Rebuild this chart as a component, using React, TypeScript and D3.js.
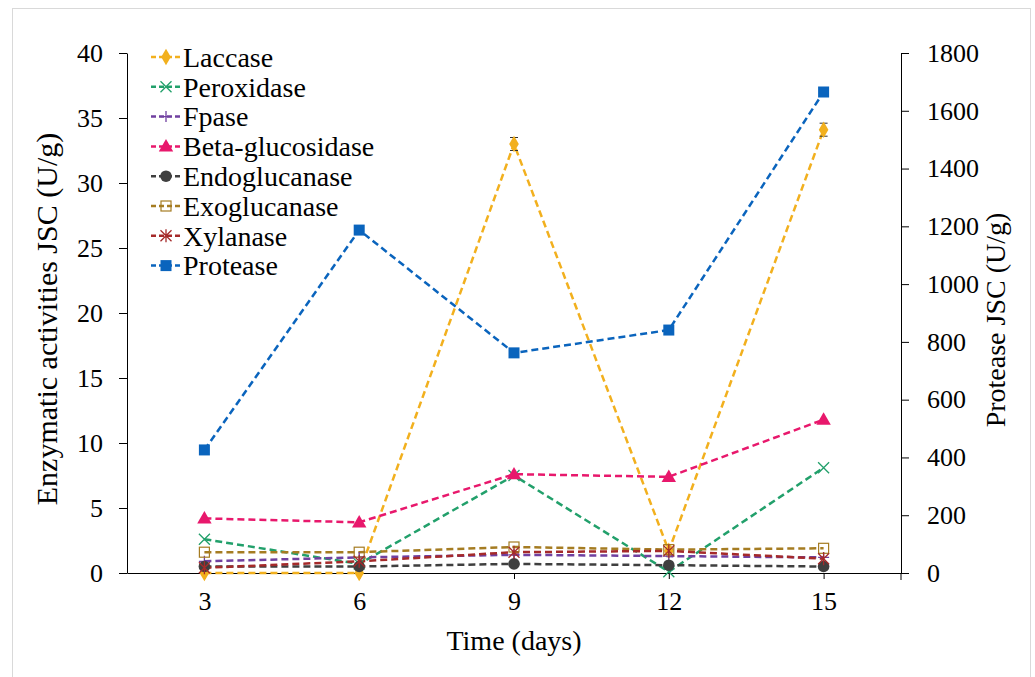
import React, { useRef, useEffect } from 'react'
import * as d3 from 'd3'

const days = ['3', '6', '9', '12', '15']
const laccase = [0.0, 0.0, 33.0, 1.7, 34.1]
const laccaseErr = [0, 0, 0.5, 0, 0.5]
const peroxidase = [2.6, 0.7, 7.5, 0.1, 8.1]
const fpase = [0.9, 1.2, 1.4, 1.3, 1.2]
const betaGlucosidase = [4.2, 3.9, 7.6, 7.4, 11.8]
const endoglucanase = [0.5, 0.5, 0.7, 0.6, 0.5]
const exoglucanase = [1.6, 1.6, 2.0, 1.8, 1.9]
const xylanase = [0.4, 0.9, 1.6, 1.7, 1.1]
const protease = [426, 1187, 762, 841, 1665]
const leftTicks = [0, 5, 10, 15, 20, 25, 30, 35, 40]
const rightTicks = [0, 200, 400, 600, 800, 1000, 1200, 1400, 1600, 1800]

type Series = { name: string; values: number[]; color: string; marker: string; axis: 'L' | 'R'; err?: number[] }

const series: Series[] = [
  { name: 'Laccase', values: laccase, color: '#f2b01e', marker: 'diamond', axis: 'L', err: laccaseErr },
  { name: 'Peroxidase', values: peroxidase, color: '#22a06b', marker: 'x', axis: 'L' },
  { name: 'Fpase', values: fpase, color: '#7040a0', marker: 'plus', axis: 'L' },
  { name: 'Beta-glucosidase', values: betaGlucosidase, color: '#e8186c', marker: 'triangle', axis: 'L' },
  { name: 'Endoglucanase', values: endoglucanase, color: '#3f3f3f', marker: 'circle', axis: 'L' },
  { name: 'Exoglucanase', values: exoglucanase, color: '#a57c22', marker: 'opensquare', axis: 'L' },
  { name: 'Xylanase', values: xylanase, color: '#a52a2a', marker: 'star', axis: 'L' },
  { name: 'Protease', values: protease, color: '#0a64bd', marker: 'square', axis: 'R' },
]

const font = "'Liberation Serif', 'DejaVu Serif', serif"

function drawMarker(g: any, kind: string, cx: number, cy: number, color: string) {
  const s = 5.5
  if (kind === 'diamond') {
    g.append('path').attr('d', d3.symbol(d3.symbolDiamond, 80)()).attr('transform', `translate(${cx},${cy})`).attr('fill', color)
  } else if (kind === 'triangle') {
    g.append('path').attr('d', d3.symbol(d3.symbolTriangle, 90)()).attr('transform', `translate(${cx},${cy + 1})`).attr('fill', color)
  } else if (kind === 'circle') {
    g.append('circle').attr('cx', cx).attr('cy', cy).attr('r', 5.8).attr('fill', color)
  } else if (kind === 'square') {
    g.append('rect').attr('x', cx - s).attr('y', cy - s).attr('width', 2 * s).attr('height', 2 * s).attr('fill', color)
  } else if (kind === 'opensquare') {
    g.append('rect').attr('x', cx - s + 0.5).attr('y', cy - s + 0.5).attr('width', 2 * s - 1).attr('height', 2 * s - 1)
      .attr('fill', 'none').attr('stroke', color).attr('stroke-width', 1.2)
  } else if (kind === 'x') {
    g.append('path').attr('d', `M${cx - s},${cy - s}L${cx + s},${cy + s}M${cx - s},${cy + s}L${cx + s},${cy - s}`)
      .attr('stroke', color).attr('stroke-width', 1.3)
  } else if (kind === 'plus') {
    g.append('path').attr('d', `M${cx - s},${cy}L${cx + s},${cy}M${cx},${cy - s}L${cx},${cy + s}`)
      .attr('stroke', color).attr('stroke-width', 1.3)
  } else if (kind === 'star') {
    g.append('path').attr('d', `M${cx - s},${cy - s}L${cx + s},${cy + s}M${cx - s},${cy + s}L${cx + s},${cy - s}M${cx},${cy - s - 1}L${cx},${cy + s + 1}`)
      .attr('stroke', color).attr('stroke-width', 1.3)
  }
}

export default function App() {
  const svgRef = useRef<SVGSVGElement>(null)

  useEffect(() => {
    const svg = d3.select(svgRef.current)
    svg.selectAll('*').remove()

    const width = 1035, height = 677
    const left = 127, right = 901, top = 53, bottom = 573

    svg.attr('width', width).attr('height', height).style('font-family', font)

    svg.append('rect').attr('x', 12.5).attr('y', 8.5).attr('width', 1018).attr('height', 700)
      .attr('fill', 'none').attr('stroke', '#d9d9d9')

    const x = d3.scalePoint().domain(days).range([left, right]).padding(0.5)
    const yL = d3.scaleLinear().domain([0, 40]).range([bottom, top])
    const yR = d3.scaleLinear().domain([0, 1800]).range([bottom, top])

    const styleAxis = (ax: any) => {
      ax.attr('font-family', null)
      ax.selectAll('.domain').attr('stroke', '#000').attr('stroke-width', 1)
      ax.selectAll('.tick line').attr('stroke', '#000').attr('stroke-width', 1)
      ax.selectAll('text').attr('fill', '#000').style('font-size', '26px').style('font-family', font)
    }

    const axL = svg.append('g').attr('transform', `translate(${left},0)`)
      .call(d3.axisLeft(yL).tickValues(leftTicks).tickFormat(d3.format('d')).tickSize(8).tickSizeOuter(0).tickPadding(16))
    styleAxis(axL)

    const axR = svg.append('g').attr('transform', `translate(${right},0)`)
      .call(d3.axisRight(yR).tickValues(rightTicks).tickFormat(d3.format('d')).tickSize(8).tickSizeOuter(0).tickPadding(18))
    styleAxis(axR)

    const axB = svg.append('g').attr('transform', `translate(0,${bottom})`)
      .call(d3.axisBottom(x).tickSize(6).tickSizeOuter(0).tickPadding(13))
    styleAxis(axB)
    axB.append('line').attr('x1', right).attr('x2', right).attr('y1', 0).attr('y2', 7).attr('stroke', '#000')

    const title = (t: any, size: number) => t.attr('text-anchor', 'middle').style('font-family', font)
      .style('font-size', `${size}px`).attr('fill', '#000')
    svg.append('text').attr('x', x('9')).attr('y', 650).call(title, 28).text('Time (days)')
    svg.append('text').attr('transform', `translate(57,319) rotate(-90)`).call(title, 30).text('Enzymatic activities JSC (U/g)')
    svg.append('text').attr('transform', `translate(1005,320) rotate(-90)`).call(title, 28).text('Protease JSC (U/g)')

    const plot = svg.append('g')
    series.forEach(s => {
      const y = s.axis === 'L' ? yL : yR
      const line = d3.line<number>().x((_, i) => x(days[i]) as number).y(d => y(d))
      plot.append('path').datum(s.values).attr('d', line).attr('fill', 'none')
        .attr('stroke', s.color).attr('stroke-width', 2.5).attr('stroke-dasharray', '7 4')
    })
    series.forEach(s => {
      const y = s.axis === 'L' ? yL : yR
      s.values.forEach((v, i) => {
        const cx = x(days[i]) as number
        if (s.err && s.err[i] > 0) {
          const e1 = y(v + s.err[i]), e2 = y(v - s.err[i])
          plot.append('path').attr('d', `M${cx - 4},${e1}L${cx + 4},${e1}M${cx},${e1}L${cx},${e2}M${cx - 4},${e2}L${cx + 4},${e2}`)
            .attr('stroke', '#333').attr('stroke-width', 1)
        }
        drawMarker(plot, s.marker, cx, y(v), s.color)
      })
    })

    const legend = svg.append('g')
    series.forEach((s, i) => {
      const ly = 57 + i * 29.8
      legend.append('line').attr('x1', 151).attr('x2', 181).attr('y1', ly).attr('y2', ly)
        .attr('stroke', s.color).attr('stroke-width', 2.5).attr('stroke-dasharray', '5 3')
      drawMarker(legend, s.marker, 166, ly, s.color)
      legend.append('text').attr('x', 183).attr('y', ly).attr('dy', '0.35em')
        .style('font-family', font).style('font-size', '28px').attr('fill', '#000').text(s.name)
    })
  }, [])

  return (
    <div style={{ position: 'absolute', left: 0, top: 0, background: '#fff' }}>
      <svg ref={svgRef} style={{ display: 'block' }} />
    </div>
  )
}
